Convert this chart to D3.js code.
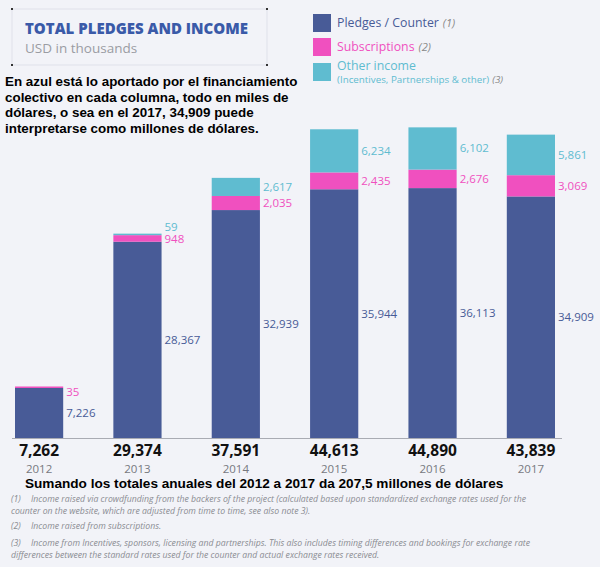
<!DOCTYPE html>
<html>
<head>
<meta charset="utf-8">
<script src="https://cdn.jsdelivr.net/npm/d3@7"></script>
<style>
  body { margin: 0; background: #f2f3f8; }
  svg { display: block; }
</style>
</head>
<body>
<div id="chart"></div>
<script>
// values in USD thousands
var years = ['2012', '2013', '2014', '2015', '2016', '2017'];
var pledges = [7226, 28367, 32939, 35944, 36113, 34909];
var subscriptions = [35, 948, 2035, 2435, 2676, 3069];
var other = [0, 59, 2617, 6234, 6102, 5861];
var totals = ['7,262', '29,374', '37,591', '44,613', '44,890', '43,839'];

var legendLabels = ['Pledges / Counter', 'Subscriptions', 'Other income'];
var legendNotes = ['(1)', '(2)', '(3)'];
var colors = ['#485b97', '#f050bf', '#5fbcd0'];

var introLines = [
  'En azul está lo aportado por el financiamiento',
  'colectivo en cada columna, todo en miles de',
  'dólares, o sea en el 2017, 34,909 puede',
  'interpretarse como millones de dólares.'
];
var summary = 'Sumando los totales  anuales del 2012 a 2017 da 207,5 millones de dólares';
var footnotes = [
  ['(1)', 'Income raised via crowdfunding from the backers of the project (calculated based upon standardized exchange rates used for the'],
  ['', 'counter on the website, which are adjusted from time to time, see also note 3).'],
  ['(2)', 'Income raised from subscriptions.'],
  ['(3)', 'Income from Incentives, sponsors, licensing and partnerships. This also includes timing differences and bookings for exchange rate'],
  ['', 'differences between the standard rates used for the counter and actual exchange rates received.']
];

var W = 600, H = 567;
var font = '"Open Sans", "Noto Sans", sans-serif';
var arial = '"Liberation Sans", Arial, sans-serif';

var svg = d3.select('#chart').append('svg')
  .attr('width', W)
  .attr('height', H);

svg.append('rect').attr('width', W).attr('height', H).attr('fill', '#f2f3f8');

// title box
var box = {x0: 12, y0: 9, x1: 267, y1: 65};
svg.append('rect')
  .attr('x', box.x0).attr('y', box.y0)
  .attr('width', box.x1 - box.x0).attr('height', box.y1 - box.y0)
  .attr('fill', 'none').attr('stroke', '#dfe1ea').attr('stroke-width', 1);
[[box.x0, box.y0], [box.x1, box.y0], [box.x0, box.y1], [box.x1, box.y1]].forEach(function(p) {
  svg.append('rect').attr('x', p[0] - 1).attr('y', p[1] - 1).attr('width', 2).attr('height', 2).attr('fill', '#333');
});
svg.append('text')
  .attr('x', 25).attr('y', 34)
  .attr('font-family', font).attr('font-weight', 800).attr('font-size', 15)
  .attr('fill', '#3a5aa8')
  .text('TOTAL PLEDGES AND INCOME');
svg.append('text')
  .attr('x', 25).attr('y', 53)
  .attr('font-family', font).attr('font-size', 13.5)
  .attr('fill', '#9a9ca3')
  .text('USD in thousands');

// intro text
svg.append('g').selectAll('text')
  .data(introLines)
  .enter().append('text')
    .attr('x', 5)
    .attr('y', function(d, i) { return 86 + i * 15.7; })
    .attr('font-family', arial)
    .attr('font-weight', 'bold').attr('font-size', 13.4)
    .attr('fill', '#000')
    .text(function(d) { return d; });

// legend
var legend = svg.append('g').attr('transform', 'translate(313,14)');
legendLabels.forEach(function(label, i) {
  var gy = i === 2 ? 49 : i * 24;
  legend.append('rect')
    .attr('x', 0).attr('y', gy)
    .attr('width', 18).attr('height', 18)
    .attr('fill', colors[i]);
  var t = legend.append('text')
    .attr('x', 24).attr('y', gy + (i === 2 ? 7 : 13))
    .attr('font-family', font).attr('font-size', 12.3)
    .attr('fill', colors[i]);
  t.append('tspan').text(label);
  if (i < 2) {
    t.append('tspan').attr('font-style', 'italic').attr('font-size', 11).attr('fill', '#888')
      .attr('dx', 4).text(legendNotes[i]);
  }
});
var sub = legend.append('text')
  .attr('x', 24).attr('y', 69)
  .attr('font-family', font).attr('font-size', 9.8)
  .attr('fill', colors[2]);
sub.append('tspan').text('(Incentives, Partnerships & other)');
sub.append('tspan').attr('font-style', 'italic').attr('fill', '#888').attr('dx', 3).text(legendNotes[2]);

// chart
var baseY = 438;
var x = d3.scaleBand().domain(years).range([15, 555]).paddingInner(0.51).paddingOuter(0);
var y = d3.scaleLinear().domain([0, 50000]).range([baseY, baseY - 346]);

var rows = years.map(function(yr, i) {
  return {year: yr, pledges: pledges[i], subscriptions: subscriptions[i], other: other[i], total: totals[i]};
});
var keys = ['pledges', 'subscriptions', 'other'];
var stacked = d3.stack().keys(keys)(rows);

var g = svg.append('g');
stacked.forEach(function(layer, k) {
  g.append('g').attr('fill', colors[k])
    .selectAll('rect')
    .data(layer)
    .enter().append('rect')
      .attr('x', function(d) { return x(d.data.year); })
      .attr('width', x.bandwidth())
      .attr('y', function(d) {
        var h = y(d[0]) - y(d[1]);
        // tiny segments still get a visible sliver
        return (h > 0 && h < 1.5) ? y(d[0]) - 1.5 : y(d[1]);
      })
      .attr('height', function(d) {
        var h = y(d[0]) - y(d[1]);
        return (h > 0 && h < 1.5) ? 1.5 : Math.max(0, h);
      });
});

// value labels beside bars
var fmt = d3.format(',');
rows.forEach(function(d, i) {
  var lx = x(d.year) + x.bandwidth() + 3;
  var mids = stacked.map(function(layer) { return (y(layer[i][0]) + y(layer[i][1])) / 2; });
  var yp = mids[0];
  var ys = Math.max(mids[1], y(stacked[1][i][1]) + 4);
  var yo = Math.min(mids[2], ys - 12);
  g.append('text').attr('x', lx).attr('y', yp).attr('dy', '0.35em')
    .attr('font-family', font).attr('font-size', 11.5).attr('fill', colors[0]).text(fmt(d.pledges));
  g.append('text').attr('x', lx).attr('y', ys).attr('dy', '0.35em')
    .attr('font-family', font).attr('font-size', 11.5).attr('fill', colors[1]).text(fmt(d.subscriptions));
  if (d.other > 0) {
    g.append('text').attr('x', lx).attr('y', yo).attr('dy', '0.35em')
      .attr('font-family', font).attr('font-size', 11.5).attr('fill', colors[2]).text(fmt(d.other));
  }
});

// baseline
g.append('line')
  .attr('x1', 12).attr('x2', 562)
  .attr('y1', baseY + 0.5).attr('y2', baseY + 0.5)
  .attr('stroke', '#a9abb3').attr('stroke-width', 1.2);

// totals + years
g.selectAll('.total')
  .data(rows)
  .enter().append('text')
    .attr('class', 'total')
    .attr('x', function(d) { return x(d.year) + x.bandwidth() / 2; })
    .attr('y', 456)
    .attr('text-anchor', 'middle')
    .attr('font-family', font).attr('font-weight', 'bold').attr('font-size', 15.5)
    .attr('fill', '#111')
    .text(function(d) { return d.total; });
g.selectAll('.year')
  .data(rows)
  .enter().append('text')
    .attr('class', 'year')
    .attr('x', function(d) { return x(d.year) + x.bandwidth() / 2; })
    .attr('y', 473)
    .attr('text-anchor', 'middle')
    .attr('font-family', font).attr('font-size', 11.5)
    .attr('fill', '#77797f')
    .text(function(d) { return d.year; });

svg.append('text')
  .attr('x', 25).attr('y', 488)
  .attr('font-family', arial)
  .attr('font-weight', 'bold').attr('font-size', 13.6)
  .attr('fill', '#000')
  .text(summary);

// footnotes
var noteY = [502, 513.5, 529, 546, 557.5];
footnotes.forEach(function(f, i) {
  var t = svg.append('text')
    .attr('x', 11).attr('y', noteY[i])
    .attr('font-family', font).attr('font-style', 'italic').attr('font-size', 8.7)
    .attr('fill', '#8a8c92');
  if (f[0]) {
    t.append('tspan').text(f[0]);
    t.append('tspan').attr('x', 31).text(f[1]);
  } else {
    t.text(f[1]);
  }
});
</script>
</body>
</html>
